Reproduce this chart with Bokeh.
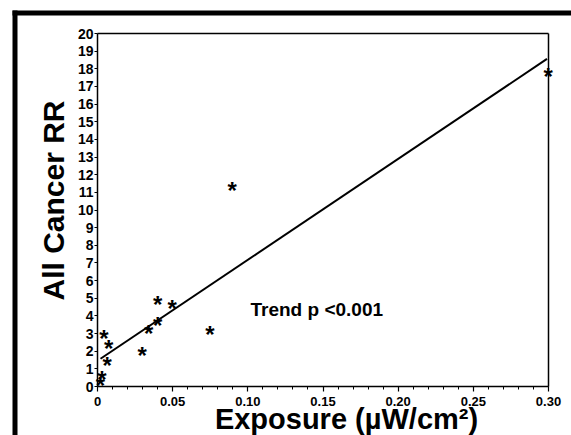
from math import pi
from bokeh.plotting import figure
from bokeh.models import Range1d, FixedTicker, Label, ColumnDataSource
from bokeh.core.properties import value
from bokeh.embed import file_html
from bokeh.resources import INLINE

# Data
exposure = [0.002, 0.003, 0.0064, 0.0075, 0.0042, 0.0297, 0.034, 0.040, 0.040, 0.0497, 0.0747, 0.0896, 0.2998]
cancer_rr = [0.22, 0.55, 1.38, 2.33, 2.90, 1.95, 3.18, 3.60, 4.79, 4.60, 3.09, 11.30, 17.75]
trend_x = [0.002, 0.299]
trend_y = [1.57, 18.56]
x_ticks = [0, 0.05, 0.10, 0.15, 0.20, 0.25, 0.30]
x_tick_labels = ["0", "0.05", "0.10", "0.15", "0.20", "0.25", "0.30"]
y_ticks = list(range(0, 21))

FONT = "Liberation Sans"
W, H = 571, 435
# pixel geometry of the axes box inside the canvas
BOX_L, BOX_R, BOX_T, BOX_B = 97, 548, 33, 386
xs = (BOX_R - BOX_L) / (x_ticks[-1] - x_ticks[0])
ys = (BOX_B - BOX_T) / (y_ticks[-1] - y_ticks[0])
x_range = Range1d(x_ticks[0] - BOX_L / xs, x_ticks[-1] + (W - BOX_R) / xs)
y_range = Range1d(y_ticks[0] - (H - BOX_B) / ys, y_ticks[-1] + BOX_T / ys)

def px_x(px):
    return x_ticks[0] + (px - BOX_L) / xs

def px_y(py):
    return y_ticks[0] + (BOX_B - py) / ys

p = figure(width=W, height=H, output_backend="svg", toolbar_location=None,
           title=None, x_range=x_range, y_range=y_range,
           min_border=0, min_border_left=0, min_border_right=0,
           min_border_top=0, min_border_bottom=0)
p.background_fill_color = "white"
p.border_fill_color = "white"
p.outline_line_color = None
p.xgrid.visible = False
p.ygrid.visible = False

p.xaxis.fixed_location = 0
p.yaxis.fixed_location = 0
p.xaxis.bounds = (x_ticks[0], x_ticks[-1])
p.yaxis.bounds = (y_ticks[0], y_ticks[-1])
p.xaxis.ticker = FixedTicker(ticks=x_ticks, minor_ticks=[i / 100 for i in range(0, 31)])
p.xaxis.major_label_overrides = {t: l for t, l in zip(x_ticks, x_tick_labels)}
p.yaxis.ticker = FixedTicker(ticks=y_ticks)
for ax in (p.xaxis, p.yaxis):
    ax.axis_line_color = "black"
    ax.axis_line_width = 1.5
    ax.major_tick_line_color = "black"
    ax.major_tick_line_width = 1.2
    ax.major_tick_in = 0
    ax.minor_tick_in = 0
    ax.major_label_text_font = FONT
    ax.major_label_text_font_style = "bold"
    ax.major_label_text_color = "black"
p.xaxis.major_tick_out = 5
p.xaxis.minor_tick_out = 3
p.xaxis.minor_tick_line_color = "black"
p.xaxis.major_label_text_font_size = "13px"
p.xaxis.major_label_standoff = 5
p.yaxis.major_tick_out = 3
p.yaxis.minor_tick_line_color = None
p.yaxis.major_label_text_font_size = "14px"
p.yaxis.major_label_standoff = 1

# thick outer frame (left and top)
p.quad(left=[px_x(12), px_x(12)], right=[px_x(17), px_x(W)],
       top=[px_y(10), px_y(10)], bottom=[px_y(H), px_y(15)],
       fill_color="black", line_color=None)

# top and right sides of the axes box
p.segment(x0=[x_ticks[0], x_ticks[-1]], y0=[y_ticks[-1], y_ticks[0]],
          x1=[x_ticks[-1], x_ticks[-1]], y1=[y_ticks[-1], y_ticks[-1]],
          line_color="black", line_width=1.5)

src = ColumnDataSource(dict(x=exposure, y=cancer_rr, t=["*"] * len(exposure)))
p.text(x="x", y="y", text="t", source=src, text_font=value(FONT), text_font_style="bold",
       text_font_size="24px", text_align="center", text_baseline="alphabetic",
       y_offset=3, text_color="black")
p.line(trend_x, trend_y, line_color="black", line_width=2)

p.add_layout(Label(x=px_x(250), y=px_y(309), text="Trend p <0.001", text_font=FONT,
                   text_font_style="bold", text_font_size="19px", text_color="black",
                   text_baseline="alphabetic"))
p.add_layout(Label(x=px_x(53), y=px_y(200), text="All Cancer RR", angle=pi / 2, text_font=FONT,
                   text_font_style="bold", text_font_size="30px", text_color="black",
                   text_align="center", text_baseline="middle"))
p.add_layout(Label(x=px_x(346), y=px_y(418), text="Exposure (µW/cm²)", text_font=FONT,
                   text_font_style="bold", text_font_size="29px", text_color="black",
                   text_align="center", text_baseline="alphabetic"))

open("out.html", "w").write(file_html(p, INLINE))
